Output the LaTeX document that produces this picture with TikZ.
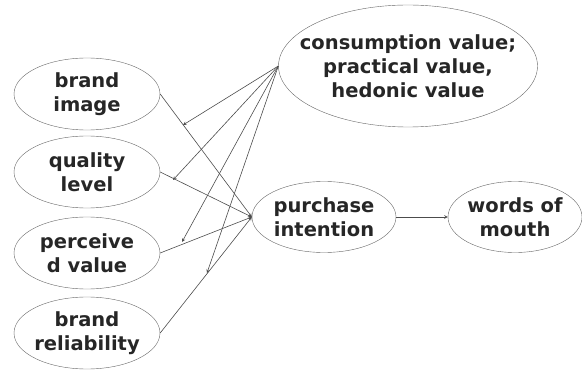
\documentclass[tikz,border=0pt]{standalone}
\usepackage{fontspec}
\setmainfont{DejaVu Sans}
\usetikzlibrary{arrows,shapes.geometric}

\begin{document}
\begin{tikzpicture}[x=1pt,y=-1pt,
  ell/.style={draw=black!60, ellipse, inner ysep=0pt, inner xsep=-20pt, align=center,
    font=\bfseries\fontsize{19.5}{24}\selectfont, text=black!85},
  arr/.style={->, >=stealth, draw=black!70, line width=0.6pt}]
  \useasboundingbox (0,0) rectangle (582,374);
  % left side
  \node[ell, minimum width=146pt, minimum height=72pt] (bimage) at (87,94) {brand\\image};
  \node[ell, minimum width=146pt, minimum height=72pt] (qlevel) at (87,172) {quality\\level};
  \node[ell, minimum width=146pt, minimum height=72pt] (pvalue) at (87,253) {perceive\\d value};
  \node[ell, minimum width=146pt, minimum height=72pt] (breliab) at (87,333) {brand\\reliability};
  % right side
  \node[ell, minimum width=259pt, minimum height=122pt] (cvalue) at (408,66) {consumption value;\\practical value,\\hedonic value};
  \node[ell, minimum width=144pt, minimum height=71pt] (pintent) at (324,217) {purchase\\intention};
  \node[ell, minimum width=134pt, minimum height=71pt] (wom) at (515,217) {words of\\mouth};
  \coordinate (c1) at (183,125);
  \coordinate (c2) at (173,180);
  \coordinate (c3) at (182,242);
  \coordinate (c4) at (207,273);
  \foreach \c in {c1,c2,c3,c4}
    \draw[arr] (cvalue.west) -- (\c);
  \foreach \n in {bimage,qlevel,pvalue,breliab}
    \draw[arr] (\n.east) -- (pintent.west);
  \draw[arr] (pintent.east) -- (wom.west);
\end{tikzpicture}
\end{document}
